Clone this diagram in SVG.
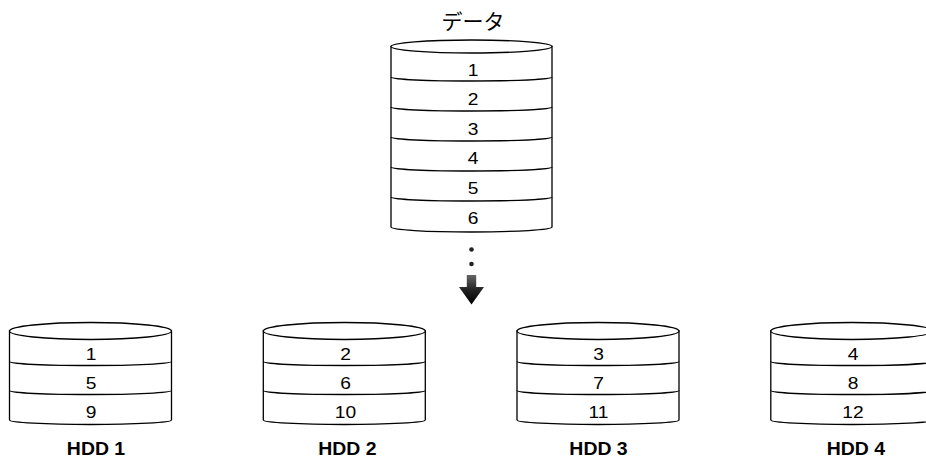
<svg xmlns="http://www.w3.org/2000/svg" width="926" height="458" viewBox="0 0 926 458">
<style>
.cyl{fill:#fff;stroke:#000;stroke-width:1.3}
.ln{fill:none;stroke:#000;stroke-width:1.3}
.num{font-family:"Liberation Sans",Arial,sans-serif;font-size:16px;fill:#000;text-anchor:middle}
.lbl{font-family:"Liberation Sans",Arial,sans-serif;font-size:18px;font-weight:bold;fill:#000;text-anchor:middle}
.ttl{font-family:"Liberation Sans","Noto Sans CJK JP",sans-serif;font-size:21px;fill:#000;text-anchor:middle}
</style>
<defs>
<linearGradient id="ag" x1="0" y1="0" x2="0" y2="1">
<stop offset="0" stop-color="#666"/>
<stop offset="0.5" stop-color="#222"/>
<stop offset="1" stop-color="#000"/>
</linearGradient>
</defs>
<rect width="926" height="458" fill="#fff"/>

<g id="data">
<text class="ttl" x="473" y="28.5">データ</text>
<path class="cyl" d="M391,46.5 V227 A80.5,5 0 0 0 552,227 V46.5 Z"/>
<ellipse class="cyl" cx="471.5" cy="46.5" rx="80.5" ry="6.5"/>
<path class="ln" d="M391,77 A80.5,4 0 0 0 552,77"/>
<path class="ln" d="M391,107 A80.5,4 0 0 0 552,107"/>
<path class="ln" d="M391,137 A80.5,4 0 0 0 552,137"/>
<path class="ln" d="M391,167 A80.5,4 0 0 0 552,167"/>
<path class="ln" d="M391,197 A80.5,4 0 0 0 552,197"/>
<text class="num" transform="translate(473,75.5) scale(1.2,1)">1</text>
<text class="num" transform="translate(473,105) scale(1.2,1)">2</text>
<text class="num" transform="translate(473,134.7) scale(1.2,1)">3</text>
<text class="num" transform="translate(473,164.3) scale(1.2,1)">4</text>
<text class="num" transform="translate(473,194) scale(1.2,1)">5</text>
<text class="num" transform="translate(473,223.7) scale(1.2,1)">6</text>
</g>

<g id="connectors">
<circle cx="471.5" cy="249.5" r="2.3" fill="#222"/>
<circle cx="471.5" cy="264" r="2.3" fill="#222"/>
<path d="M466.8,275 H476.2 V287 H484 L471.5,304.5 L459,287 H466.8 Z" fill="url(#ag)"/>
</g>

<g id="hdd1">
<path class="cyl" d="M9.5,331 V420 A81,4.5 0 0 0 171.5,420 V331 Z"/>
<ellipse class="cyl" cx="90.5" cy="331" rx="81" ry="8.5"/>
<path class="ln" d="M9.5,361.5 A81,4 0 0 0 171.5,361.5"/>
<path class="ln" d="M9.5,390.5 A81,4 0 0 0 171.5,390.5"/>
<text class="num" transform="translate(91,360) scale(1.2,1)">1</text>
<text class="num" transform="translate(91,388.7) scale(1.2,1)">5</text>
<text class="num" transform="translate(91,417.5) scale(1.2,1)">9</text>
<text class="lbl" transform="translate(96,455) scale(1.08,1)">HDD 1</text>
</g>

<g id="hdd2">
<path class="cyl" d="M263.3,331 V420 A81,4.5 0 0 0 425.3,420 V331 Z"/>
<ellipse class="cyl" cx="344.3" cy="331" rx="81" ry="8.5"/>
<path class="ln" d="M263.3,361.5 A81,4 0 0 0 425.3,361.5"/>
<path class="ln" d="M263.3,390.5 A81,4 0 0 0 425.3,390.5"/>
<text class="num" transform="translate(345.5,360) scale(1.2,1)">2</text>
<text class="num" transform="translate(345.5,388.7) scale(1.2,1)">6</text>
<text class="num" transform="translate(345.5,417.5) scale(1.2,1)">10</text>
<text class="lbl" transform="translate(347.3,455) scale(1.08,1)">HDD 2</text>
</g>

<g id="hdd3">
<path class="cyl" d="M517,331 V420 A81,4.5 0 0 0 679,420 V331 Z"/>
<ellipse class="cyl" cx="598" cy="331" rx="81" ry="8.5"/>
<path class="ln" d="M517,361.5 A81,4 0 0 0 679,361.5"/>
<path class="ln" d="M517,390.5 A81,4 0 0 0 679,390.5"/>
<text class="num" transform="translate(598.5,360) scale(1.2,1)">3</text>
<text class="num" transform="translate(598.5,388.7) scale(1.2,1)">7</text>
<text class="num" transform="translate(598.5,417.5) scale(1.2,1)">11</text>
<text class="lbl" transform="translate(598.5,455) scale(1.08,1)">HDD 3</text>
</g>

<g id="hdd4">
<path class="cyl" d="M770.8,331 V420 A81,4.5 0 0 0 932.8,420 V331 Z"/>
<ellipse class="cyl" cx="851.8" cy="331" rx="81" ry="8.5"/>
<path class="ln" d="M770.8,361.5 A81,4 0 0 0 932.8,361.5"/>
<path class="ln" d="M770.8,390.5 A81,4 0 0 0 932.8,390.5"/>
<text class="num" transform="translate(853,360) scale(1.2,1)">4</text>
<text class="num" transform="translate(853,388.7) scale(1.2,1)">8</text>
<text class="num" transform="translate(853,417.5) scale(1.2,1)">12</text>
<text class="lbl" transform="translate(855.8,455) scale(1.08,1)">HDD 4</text>
</g>
</svg>
